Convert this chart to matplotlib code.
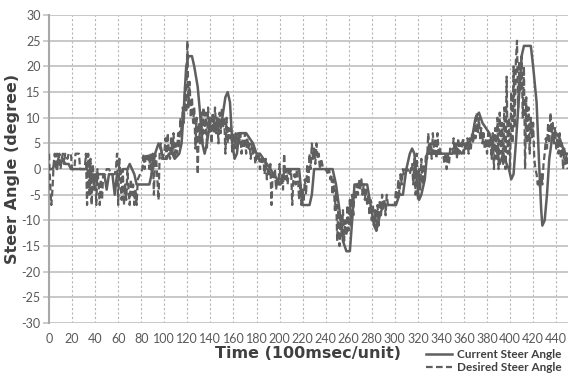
import matplotlib
matplotlib.use('Agg')
import matplotlib.pyplot as plt
import numpy as np

plt.rcParams['axes.unicode_minus'] = False

# current steer angle (solid line)
cur_t = [0, 3, 5, 7, 8, 10, 12, 14, 17, 19, 33, 35, 36, 37, 38, 39, 40, 41, 43, 48,
         50, 52, 55, 57, 59, 62, 64, 68, 70, 72, 74, 76, 87, 90, 92, 95, 97, 99, 102, 104,
         107, 109, 113, 115, 117, 119, 121, 124, 126, 129, 131, 133, 135, 137, 139, 141, 143, 145, 147, 149,
         151, 153, 155, 157, 159, 161, 163, 165, 168, 171, 174, 177, 180, 183, 186, 189, 192, 195, 198, 200,
         202, 205, 217, 219, 220, 226, 228, 230, 246, 249, 252, 255, 258, 261, 263, 265, 276, 279, 282, 284,
         287, 290, 301, 304, 307, 310, 313, 315, 317, 319, 321, 323, 326, 328, 335, 340, 350, 354, 358, 361,
         364, 367, 370, 373, 376, 379, 382, 385, 388, 391, 394, 397, 399, 401, 403, 405, 408, 410, 412, 418,
         420, 423, 425, 427, 428, 430, 432, 434, 437, 440, 443, 446, 448, 450]
cur_v = [0, 0, 1, 0, 2, 1, 2, 1, 1, 0, 0, -1, 0, -2, -1, -3, -1, -2, -1, -1,
         -4, -1, -1, -5, -1, -1, 0, 0, 1, 0, -1, -3, -3, 0, 3, 5, 4, 2, 2, 3,
         3, 2, 3, 5, 12, 20, 22, 22, 20, 16, 11, 5, 3, 5, 8, 10, 9, 7, 9, 8,
         11, 14, 15, 13, 5, 2, 3, 7, 7, 7, 6, 5, 3, 3, 2, 1, 0, -1, -2, -3,
         -2, 0, 0, -5, -7, -7, -5, 0, 0, -3, -8, -14, -16, -16, -10, -3, -3, -7, -11, -12,
         -9, -7, -7, -5, -5, 0, 3, 4, 3, -2, -6, -5, -2, 3, 3, 3, 3, 4, 3, 4,
         5, 6, 10, 11, 9, 8, 7, 5, 4, 1, 3, 1, 0, -2, -1, 5, 15, 22, 24, 24,
         20, 13, 2, -8, -11, -10, -5, 2, 7, 7, 6, 4, 3, 3]

# desired steer angle (dashed line)
des_t = [0, 1, 2, 3, 4, 5, 6, 7, 8, 9, 10, 11, 12, 13, 14, 16, 17, 19, 20, 22,
         23, 26, 27, 31, 32, 33, 34, 35, 36, 37, 38, 39, 40, 41, 42, 43, 44, 45, 46, 47,
         49, 50, 52, 54, 57, 58, 59, 60, 61, 62, 63, 64, 65, 66, 67, 68, 69, 70, 71, 72,
         73, 74, 75, 76, 77, 79, 81, 82, 83, 84, 85, 86, 87, 88, 89, 90, 91, 92, 93, 95,
         96, 97, 98, 100, 101, 102, 103, 104, 105, 106, 107, 108, 109, 110, 111, 112, 113, 114, 115, 116,
         117, 118, 119, 120, 121, 122, 123, 124, 125, 126, 127, 128, 129, 130, 131, 132, 133, 134, 135, 136,
         137, 138, 139, 140, 141, 142, 143, 144, 145, 146, 147, 148, 149, 150, 151, 152, 153, 154, 155, 156,
         157, 158, 159, 160, 161, 162, 163, 164, 165, 166, 167, 168, 169, 170, 171, 172, 173, 174, 175, 176,
         177, 178, 179, 180, 181, 182, 183, 184, 185, 186, 187, 188, 189, 190, 191, 192, 193, 194, 195, 196,
         197, 198, 199, 200, 201, 202, 203, 204, 205, 206, 207, 208, 209, 210, 211, 212, 213, 214, 215, 216,
         217, 218, 219, 220, 221, 222, 223, 224, 225, 226, 227, 228, 229, 230, 231, 232, 233, 234, 235, 236,
         238, 240, 242, 243, 244, 245, 246, 247, 248, 249, 250, 251, 252, 253, 254, 255, 256, 257, 258, 259,
         260, 261, 262, 263, 264, 265, 266, 267, 268, 269, 270, 271, 272, 273, 274, 275, 276, 277, 278, 279,
         280, 281, 282, 283, 284, 285, 286, 287, 288, 289, 290, 291, 292, 293, 294, 296, 298, 300, 301, 302,
         303, 304, 305, 306, 307, 308, 309, 311, 313, 315, 316, 317, 318, 319, 320, 321, 322, 323, 324, 325,
         326, 327, 328, 329, 330, 331, 332, 333, 334, 335, 336, 337, 338, 339, 340, 342, 343, 344, 345, 346,
         347, 348, 350, 351, 352, 353, 354, 355, 356, 357, 358, 359, 360, 361, 362, 363, 364, 365, 366, 367,
         368, 369, 370, 371, 372, 373, 374, 375, 376, 377, 378, 379, 380, 381, 382, 383, 384, 385, 386, 387,
         388, 389, 390, 391, 392, 393, 394, 395, 396, 397, 398, 399, 400, 401, 402, 403, 404, 405, 406, 407,
         408, 409, 410, 411, 412, 413, 414, 415, 416, 417, 418, 419, 420, 421, 422, 423, 424, 425, 426, 427,
         428, 429, 430, 431, 432, 433, 434, 435, 436, 437, 438, 439, 440, 441, 442, 443, 444, 445, 446, 447,
         448, 449, 450]
des_v = [3, -3, -7, -4, 1, 3, 0, 3, 1, 3, 0, 2, 3, 1, 3, 2, 3, 3, 0, 0,
         3, 3, 0, 0, 3, -7, 3, -5, 2, -7, 1, -4, -1, -7, 0, -3, -7, -2, -6, -1,
         -1, 0, 0, -1, -1, 0, 3, -7, 2, -2, -6, 0, -7, -3, -6, 0, -4, -7, -2, -5,
         -3, -7, -4, -7, -2, -1, 0, 3, 0, 3, 2, 3, 0, 3, -1, 3, -5, 3, 2, -6,
         3, 5, 2, 3, 6, 2, 7, 3, 2, 6, 3, 7, 2, 5, 3, 7, 4, 10, 7, 12,
         9, 16, 11, 25, 12, 17, 10, 14, 9, 12, 4, 10, -1, 9, 5, 11, 5, 12, 7, 11,
         4, 12, 7, 10, 5, 11, 7, 12, 8, 10, 5, 11, 7, 12, 8, 10, 3, 10, 5, 8,
         6, 8, 3, 7, 4, 7, 4, 7, 5, 7, 3, 6, 4, 7, 3, 6, 4, 5, 2, 5,
         3, 4, 1, 3, 2, 3, 0, 2, 1, 2, -1, 2, -2, 0, -1, 1, -7, -1, -2, 0,
         -4, -2, -3, 1, -3, -1, -4, 3, -2, 0, -3, 0, -1, 0, -7, -2, -1, -3, 0, -2,
         -6, -3, -7, -4, -6, -2, -5, 1, -3, 3, 0, 5, 2, 4, 1, 5, 2, 3, 0, 2,
         0, 0, -1, 0, -2, -1, -5, -2, -8, -4, -14, -7, -15, -9, -13, -8, -14, -10, -13, -7,
         -12, -6, -11, -5, -9, -4, -6, -3, -5, -2, -4, -2, -5, -3, -6, -4, -7, -5, -9, -6,
         -10, -7, -11, -8, -12, -7, -11, -6, -9, -5, -8, -6, -9, -5, -7, -7, -7, -7, -4, -6,
         -2, -5, -1, -3, 0, -1, 0, 0, -1, 1, -3, 2, -5, 3, -6, 0, -4, 2, -3, 1,
         -1, 3, 2, 7, 3, 5, 2, 7, 3, 6, 2, 7, 3, 4, 3, 3, 1, 3, 0, 3,
         1, 4, 3, 6, 3, 5, 2, 6, 3, 5, 4, 6, 3, 5, 4, 6, 3, 6, 4, 7,
         5, 9, 6, 11, 7, 10, 6, 8, 5, 7, 4, 6, 3, 7, 4, 6, 2, 7, 0, 8,
         2, 10, 0, 11, 3, 9, 1, 12, 0, 18, 3, 10, 0, 15, 5, 20, 8, 21, 25, 12,
         21, 15, 22, 10, 20, 0, 14, 5, 12, 3, 10, 6, 9, 2, 0, -1, -3, -2, -4, -1,
         -3, 1, 3, 6, 4, 9, 5, 11, 7, 9, 5, 8, 4, 6, 3, 7, 2, 5, 0, 4,
         1, 3, 0]

y_ticks = np.arange(-30, 31, 5)
x_ticks = np.arange(0, 441, 20)

line_col = '#5f5f5f'
grid_col = '#c4c4c4'
txt_col = '#595959'

fig = plt.figure(figsize=(5.7, 3.77), dpi=100)
ax = fig.add_axes([0.086, 0.143, 0.91, 0.817])

ax.plot(cur_t, cur_v, color=line_col, lw=1.8, label='Current Steer Angle', zorder=3)
ax.plot(des_t, des_v, color=line_col, lw=1.6, ls=(0, (3, 1.5)), label='Desired Steer Angle', zorder=4)

ax.set_xlim(0, 450)
ax.set_ylim(-30, 30)
ax.set_xticks(x_ticks)
ax.set_yticks(y_ticks)

ax.yaxis.grid(True, color=grid_col, lw=1.3, ls='-')
ax.xaxis.grid(True, color='#b5b5b5', lw=0.8, ls=(0, (2, 2)))
ax.set_axisbelow(True)

for s in ['top', 'right', 'bottom']:
    ax.spines[s].set_visible(False)
ax.spines['left'].set_color('#a8a8a8')
ax.spines['left'].set_linewidth(1.5)

ax.tick_params(axis='y', length=4, color=grid_col, width=1.2, labelsize=9, labelcolor=txt_col, pad=2)
ax.tick_params(axis='x', length=0, labelsize=9, labelcolor=txt_col, pad=7)
for lab in ax.get_xticklabels() + ax.get_yticklabels():
    lab.set_family('Lato')

ax.set_xlabel('Time (100msec/unit)', fontsize=11.5, fontweight='bold', color='#404040', labelpad=1, family='DejaVu Sans')
ax.set_ylabel('Steer Angle (degree)', fontsize=11.5, fontweight='bold', color='#404040', labelpad=1, family='DejaVu Sans')

fig.legend(loc='lower right', bbox_to_anchor=(1.0, -0.012), frameon=False,
           prop={'family': 'Lato', 'weight': 'bold', 'size': 8.5},
           labelcolor='#404040', handlelength=2.2, handletextpad=0.4, labelspacing=0.15,
           borderpad=0.2)

fig.savefig('out.png', dpi=100)
